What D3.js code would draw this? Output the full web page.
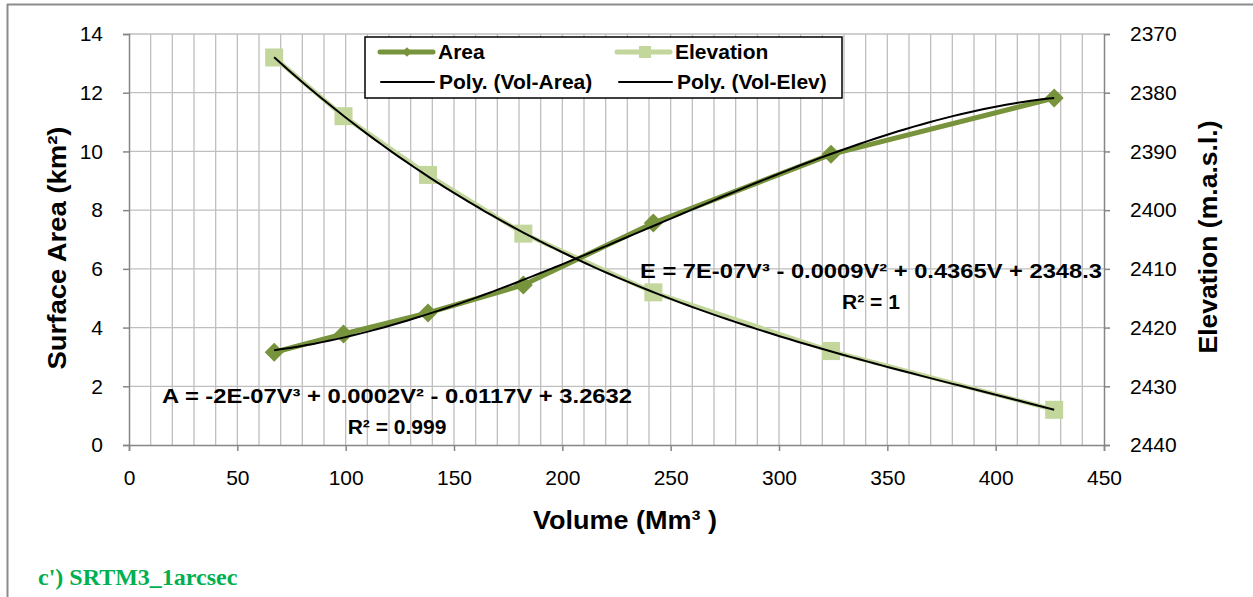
<!DOCTYPE html>
<html lang="en">
  <head>
    <meta charset="UTF-8" />
    <title>Volume - Area - Elevation</title>
    <style>
      body { margin: 0; background: #fff; }
      text { font-family: "Liberation Sans", Arial, sans-serif; }
      .tick text { font-size: 21px; fill: #000; }
      .axis path, .axis line { stroke: #868686; }
      .grid line { stroke: #bfbfbf; stroke-width: 1.3; }
      .bold { font-weight: bold; }
    </style>
  </head>
  <body>
    <script src="https://d3js.org/d3.v7.min.js"></script>
    <script>
      // values
      const volume = [67, 99, 138, 182, 242, 324, 427];
      const area = [3.16, 3.78, 4.5, 5.45, 7.56, 9.9, 11.82];
      const elevation = [2374, 2384, 2394, 2404, 2414, 2424, 2434];
      const xTicks = [0, 50, 100, 150, 200, 250, 300, 350, 400, 450];
      const areaTicks = [0, 2, 4, 6, 8, 10, 12, 14];
      const elevTicks = [2370, 2380, 2390, 2400, 2410, 2420, 2430, 2440];
      const areaEq = "A = -2E-07V³ + 0.0002V² - 0.0117V + 3.2632";
      const areaR2 = "R² = 0.999";
      const elevEq = "E = 7E-07V³ - 0.0009V² + 0.4365V + 2348.3";
      const elevR2 = "R² = 1";

      const W = 1253, H = 597;
      const plot = { left: 129, right: 1104, top: 34, bottom: 445 };
      const colArea = "#77933c", colElev = "#c3d69b";

      // least squares cubic (what the spreadsheet trendline does)
      function cubicFit(xs, ys) {
        const n = 4, s = 100;
        const A = Array.from({ length: n }, () => new Array(n + 1).fill(0));
        xs.forEach((x0, k) => {
          const x = x0 / s;
          for (let i = 0; i < n; i++) {
            for (let j = 0; j < n; j++) A[i][j] += Math.pow(x, i + j);
            A[i][n] += ys[k] * Math.pow(x, i);
          }
        });
        for (let c = 0; c < n; c++) {
          let p = c;
          for (let r = c + 1; r < n; r++) if (Math.abs(A[r][c]) > Math.abs(A[p][c])) p = r;
          [A[c], A[p]] = [A[p], A[c]];
          for (let r = 0; r < n; r++) {
            if (r === c) continue;
            const f = A[r][c] / A[c][c];
            for (let k = c; k <= n; k++) A[r][k] -= f * A[c][k];
          }
        }
        const coef = A.map((row, i) => row[n] / row[i]);
        return (x0) => coef.reduce((acc, c, i) => acc + c * Math.pow(x0 / s, i), 0);
      }

      const svg = d3.select("body").append("svg").attr("width", W).attr("height", H);

      // outer frame lines
      svg.append("line").attr("x1", 7).attr("x2", W).attr("y1", 4.5).attr("y2", 4.5)
        .attr("stroke", "#8c8c8c").attr("stroke-width", 2);
      svg.append("line").attr("x1", 7.5).attr("x2", 7.5).attr("y1", 4).attr("y2", H)
        .attr("stroke", "#8c8c8c").attr("stroke-width", 2);

      const x = d3.scaleLinear().domain([0, 450]).range([plot.left, plot.right]);
      const yA = d3.scaleLinear().domain([0, 14]).range([plot.bottom, plot.top]);
      const yE = d3.scaleLinear().domain([2370, 2440]).range([plot.top, plot.bottom]);

      // grid
      const grid = svg.append("g").attr("class", "grid");
      grid.selectAll(".v").data(d3.range(10, 450, 10)).join("line")
        .attr("x1", (d) => x(d)).attr("x2", (d) => x(d))
        .attr("y1", plot.top).attr("y2", plot.bottom);
      grid.selectAll(".h").data(areaTicks.slice(1)).join("line")
        .attr("x1", plot.left).attr("x2", plot.right)
        .attr("y1", (d) => yA(d)).attr("y2", (d) => yA(d));

      // axes
      const gx = svg.append("g").attr("class", "axis")
        .attr("transform", `translate(0,${plot.bottom})`)
        .call(d3.axisBottom(x).tickValues(xTicks).tickSizeOuter(0).tickSize(6).tickPadding(19));
      const gl = svg.append("g").attr("class", "axis")
        .attr("transform", `translate(${plot.left},0)`)
        .call(d3.axisLeft(yA).tickValues(areaTicks).tickSizeOuter(0).tickSize(6).tickPadding(20));
      const gr = svg.append("g").attr("class", "axis")
        .attr("transform", `translate(${plot.right},0)`)
        .call(d3.axisRight(yE).tickValues(elevTicks).tickFormat(d3.format("d"))
          .tickSizeOuter(0).tickSize(6).tickPadding(20));
      [gx, gl, gr].forEach((g) => g.selectAll("path,line").attr("stroke-width", 1.5));

      // series lines
      const pts = volume.map((v, i) => ({ v, a: area[i], e: elevation[i] }));
      const lineA = d3.line().x((d) => x(d.v)).y((d) => yA(d.a));
      const lineE = d3.line().x((d) => x(d.v)).y((d) => yE(d.e));

      svg.append("path").attr("d", lineE(pts)).attr("fill", "none")
        .attr("stroke", colElev).attr("stroke-width", 4.5);
      svg.selectAll(".sq").data(pts).join("rect")
        .attr("x", (d) => x(d.v) - 9).attr("y", (d) => yE(d.e) - 9)
        .attr("width", 18).attr("height", 18).attr("fill", colElev);

      svg.append("path").attr("d", lineA(pts)).attr("fill", "none")
        .attr("stroke", colArea).attr("stroke-width", 5);
      const diamond = d3.symbol().type(d3.symbolDiamond2).size(230);
      svg.selectAll(".dm").data(pts).join("path")
        .attr("d", diamond)
        .attr("transform", (d) => `translate(${x(d.v)},${yA(d.a)})`)
        .attr("fill", colArea);

      // trendlines
      const fA = cubicFit(volume, area);
      const fE = cubicFit(volume, elevation);
      const vs = d3.range(101).map((i) => volume[0] + (volume[6] - volume[0]) * i / 100);
      svg.append("path")
        .attr("d", d3.line().x((v) => x(v)).y((v) => yA(fA(v)))(vs))
        .attr("fill", "none").attr("stroke", "#000").attr("stroke-width", 2);
      svg.append("path")
        .attr("d", d3.line().x((v) => x(v)).y((v) => yE(fE(v)))(vs))
        .attr("fill", "none").attr("stroke", "#000").attr("stroke-width", 2);

      // equations
      const eq = svg.append("g").attr("class", "bold").attr("text-anchor", "middle")
        .style("font-size", "21px");
      eq.append("text").attr("x", 397).attr("y", 403).text(areaEq)
        .attr("textLength", 470).attr("lengthAdjust", "spacingAndGlyphs");
      eq.append("text").attr("x", 397).attr("y", 434).text(areaR2);
      eq.append("text").attr("x", 871).attr("y", 278).text(elevEq)
        .attr("textLength", 462).attr("lengthAdjust", "spacingAndGlyphs");
      eq.append("text").attr("x", 871).attr("y", 309).text(elevR2);

      // legend
      const lg = svg.append("g");
      lg.append("rect").attr("x", 365).attr("y", 37).attr("width", 477).attr("height", 61)
        .attr("fill", "#fff").attr("stroke", "#000").attr("stroke-width", 1.5);
      const items = [
        { name: "Area", x: 380, y: 52, kind: "area" },
        { name: "Elevation", x: 617, y: 52, kind: "elev" },
        { name: "Poly. (Vol-Area)", x: 381, y: 82, kind: "poly" },
        { name: "Poly. (Vol-Elev)", x: 619, y: 82, kind: "poly" },
      ];
      items.forEach((it) => {
        const g = lg.append("g");
        const stroke = it.kind === "area" ? colArea : it.kind === "elev" ? colElev : "#000";
        const sw = it.kind === "poly" ? 2 : 5;
        g.append("line").attr("x1", it.x).attr("x2", it.x + 53)
          .attr("y1", it.y).attr("y2", it.y)
          .attr("stroke", stroke).attr("stroke-width", sw).attr("stroke-linecap", "round");
        if (it.kind === "area") {
          g.append("path").attr("d", d3.symbol().type(d3.symbolDiamond2).size(60))
            .attr("transform", `translate(${it.x + 27},${it.y})`).attr("fill", colArea);
        } else if (it.kind === "elev") {
          g.append("rect").attr("x", it.x + 22).attr("y", it.y - 6)
            .attr("width", 12).attr("height", 12).attr("fill", colElev);
        }
        g.append("text").attr("class", "bold").attr("x", it.x + 58)
          .attr("y", it.y + 7).style("font-size", "21px").text(it.name);
      });

      // axis titles
      svg.append("text").attr("class", "bold")
        .attr("transform", `translate(66,248) rotate(-90)`)
        .attr("text-anchor", "middle").style("font-size", "25px")
        .attr("textLength", 243).attr("lengthAdjust", "spacingAndGlyphs")
        .text("Surface Area (km²)");
      svg.append("text").attr("class", "bold")
        .attr("transform", `translate(1217,237) rotate(-90)`)
        .attr("text-anchor", "middle").style("font-size", "25px")
        .attr("textLength", 233).attr("lengthAdjust", "spacingAndGlyphs")
        .text("Elevation (m.a.s.l.)");
      svg.append("text").attr("class", "bold")
        .attr("x", 625).attr("y", 529).attr("text-anchor", "middle")
        .style("font-size", "25px")
        .attr("textLength", 184).attr("lengthAdjust", "spacingAndGlyphs")
        .text("Volume (Mm³ )");

      svg.append("text").attr("x", 38).attr("y", 585)
        .style("font-family", "'Liberation Serif', 'Times New Roman', serif")
        .style("font-weight", "bold").style("font-size", "24px")
        .attr("fill", "#00b050").text("c') SRTM3_1arcsec");
    </script>
  </body>
</html>
